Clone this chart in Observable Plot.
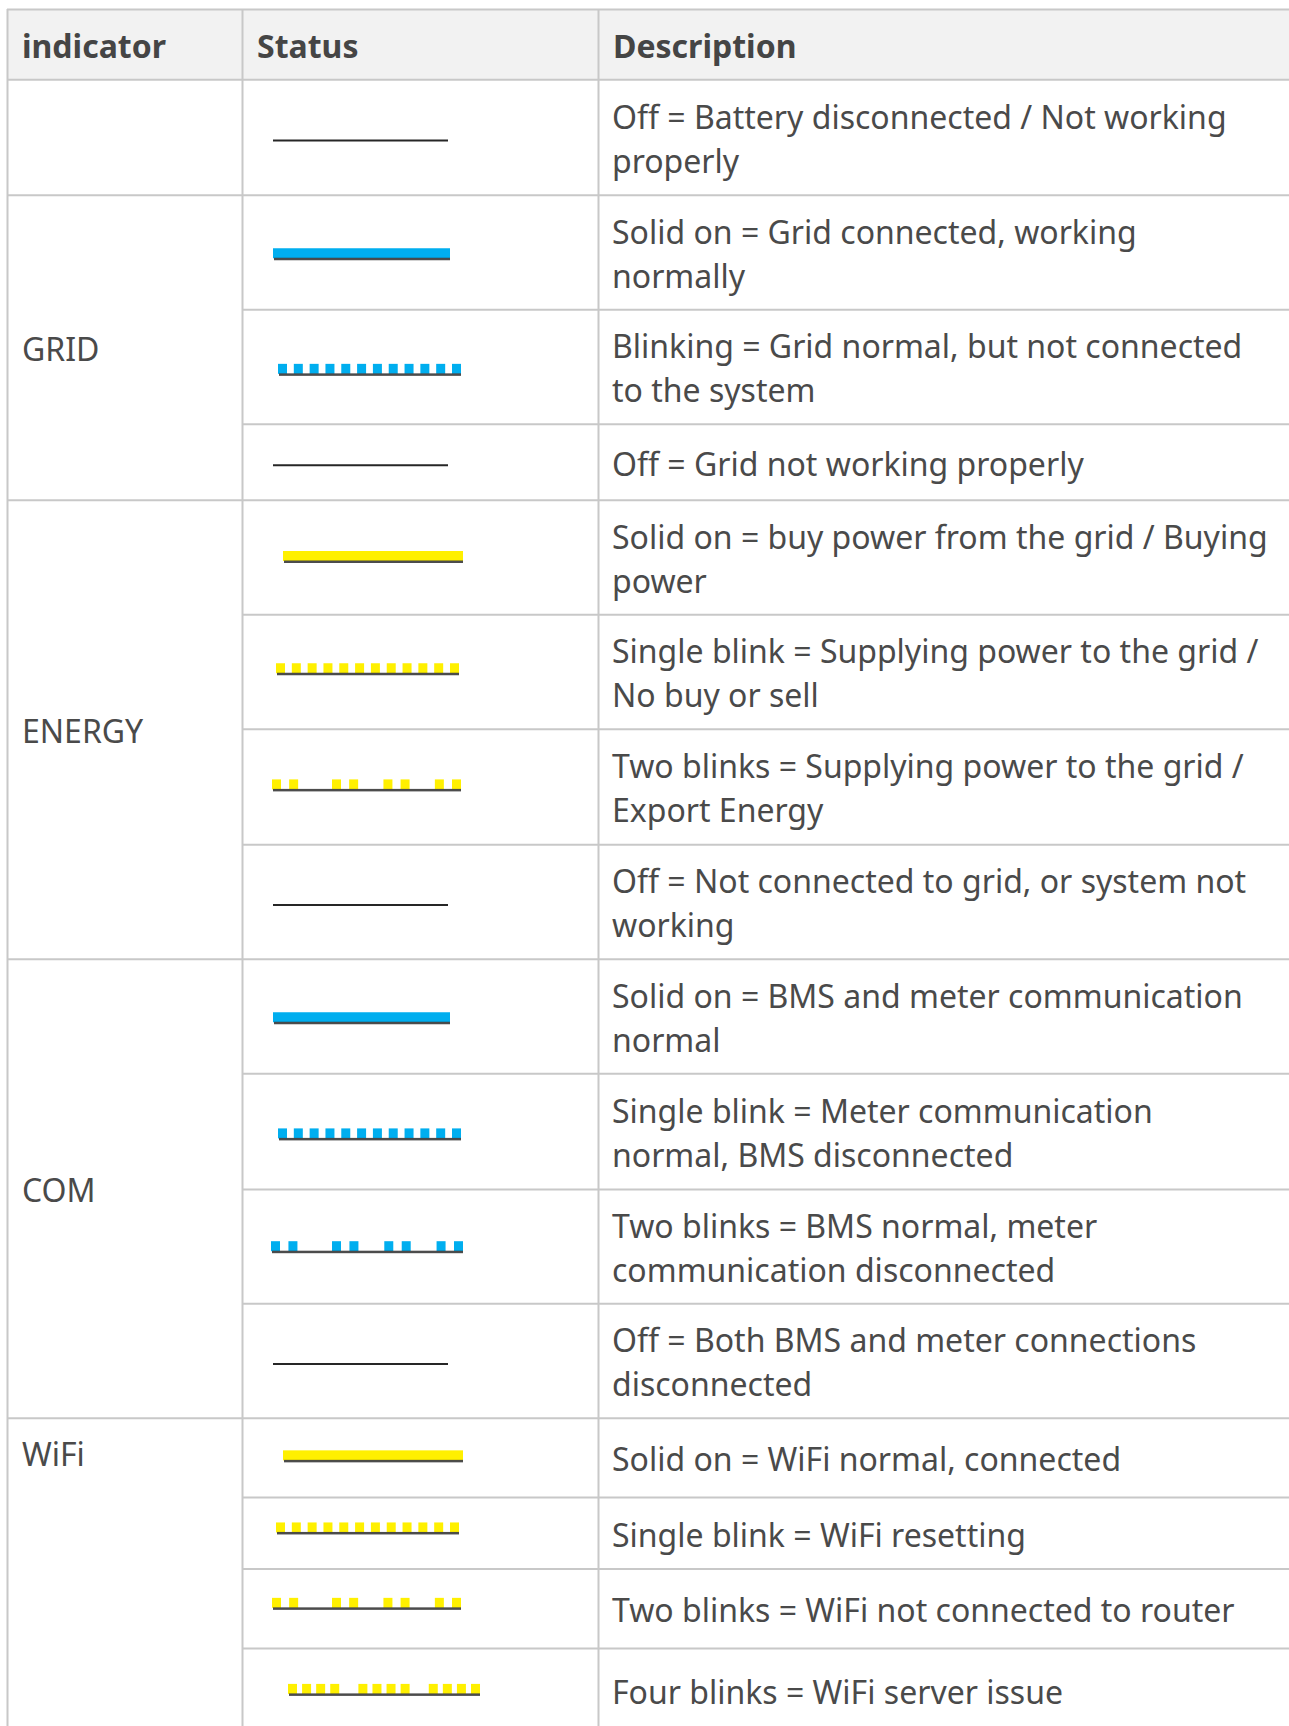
<!DOCTYPE html>
<html>
<head>
<meta charset="utf-8">
<script src="https://cdn.jsdelivr.net/npm/d3@7"></script>
<script src="https://cdn.jsdelivr.net/npm/@observablehq/plot@0.6"></script>
<style>
  html, body { margin: 0; padding: 0; background: #ffffff; overflow: hidden; }
  #chart svg { display: block; }
</style>
</head>
<body>
<div id="chart"></div>
<script>
// ---------------- DATA ----------------
const headers = ["indicator", "Status", "Description"];

const rowIndicator = [
  "", "GRID", "GRID", "GRID",
  "ENERGY", "ENERGY", "ENERGY", "ENERGY",
  "COM", "COM", "COM", "COM",
  "WiFi", "WiFi", "WiFi", "WiFi"
];

const rowStatus = [
  "off", "solid", "single", "off",
  "solid", "single", "double", "off",
  "solid", "single", "double", "off",
  "solid", "single", "double", "quad"
];

const rowLed = [
  "none", "blue LED", "blue LED", "none",
  "yellow LED", "yellow LED", "yellow LED", "none",
  "blue LED", "blue LED", "blue LED", "none",
  "yellow LED", "yellow LED", "yellow LED", "yellow LED"
];

const rowDescription = [
  "Off = Battery disconnected / Not working\nproperly",
  "Solid on = Grid connected, working\nnormally",
  "Blinking = Grid normal, but not connected\nto the system",
  "Off = Grid not working properly",
  "Solid on = buy power from the grid / Buying\npower",
  "Single blink = Supplying power to the grid /\nNo buy or sell",
  "Two blinks = Supplying power to the grid /\nExport Energy",
  "Off = Not connected to grid, or system not\nworking",
  "Solid on = BMS and meter communication\nnormal",
  "Single blink = Meter communication\nnormal, BMS disconnected",
  "Two blinks = BMS normal, meter\ncommunication disconnected",
  "Off = Both BMS and meter connections\ndisconnected",
  "Solid on = WiFi normal, connected",
  "Single blink = WiFi resetting",
  "Two blinks = WiFi not connected to router",
  "Four blinks = WiFi server issue"
];

// LED blink sequences (1 = lit, 0 = dark)
const blinkPatterns = {
  single: "10101010101010101010101",
  double: "1010000101000101000101",
  quad:   "11110111101111"
};

const ledNames = ["blue LED", "yellow LED"];

// ---------------- LAYOUT / STYLE ----------------
const W = 1289, H = 1726;
const colX = [7, 242, 598, W];
const pad = 14.5;
const tableTop = 9, headerBottom = 79.3;
const rowHeights = [115.5, 114.5, 114.5, 76, 114.4, 114.5, 115.6, 114.5, 114.5, 115.6, 114.4, 114.5, 79.3, 71.5, 79.3, 84];
const glyphDy = [0, 2.2, 3.3, 0, 0, -2.2, -1.1, 0, 2.2, 3.3, 1.1, 0, -1.1, -4.4, -4.4, 0];
const textDy = -0.8;
const labelDy = {centered: 3.2, top: -2.4};
const labelAtFirstRow = ["WiFi"];
const ledColors = ["#00aeef", "#fff000"];
const glyphSpan = {
  off: [273, 448],
  "solid_blue LED": [273, 450], "solid_yellow LED": [283, 463],
  "single_blue LED": [278, 461], "single_yellow LED": [276, 459],
  "double_blue LED": [271, 463], "double_yellow LED": [272, 461],
  "quad_yellow LED": [288, 480]
};
const squareW = 9;
const fontSize = 32;
const gridColor = "#c8c8c8";
const textColor = "#4a4a4a";
const font = "'Noto Sans', 'Open Sans', sans-serif";

// ---------------- BUILD ----------------
let acc = headerBottom;
const rows = rowDescription.map((description, i) => {
  const y1 = acc, y2 = acc + rowHeights[i];
  acc = y2;
  return {i, indicator: rowIndicator[i], status: rowStatus[i], led: rowLed[i],
          description, y1, y2, cy: (y1 + y2) / 2, gy: (y1 + y2) / 2 + glyphDy[i]};
});

// groups of indicator
const groups = [];
rows.forEach(r => {
  const g = groups[groups.length - 1];
  if (g && g.indicator === r.indicator) g.rows.push(r);
  else groups.push({indicator: r.indicator, rows: [r]});
});
const labels = groups.filter(g => g.indicator !== "").map(g => ({
  text: g.indicator,
  y: labelAtFirstRow.includes(g.indicator) ? g.rows[0].cy + labelDy.top
     : (g.rows[0].y1 + g.rows[g.rows.length - 1].y2) / 2 + labelDy.centered
}));

// grid lines
const hLines = [
  {y: tableTop, x1: colX[0], x2: W},
  {y: headerBottom, x1: colX[0], x2: W}
];
rows.forEach((r, i) => {
  if (i === 0) return;
  const full = r.indicator !== rows[i - 1].indicator;
  hLines.push({y: r.y1, x1: full ? colX[0] : colX[1], x2: W});
});
const vLines = colX.slice(0, 3).map(x => ({x, y1: tableTop, y2: H}));

const headerCells = headers.map((t, k) => ({text: t, x: colX[k] + pad, y: (tableTop + headerBottom) / 2 + 3}));

// glyph pieces
const offRows = rows.filter(r => r.status === "off");
const solidRows = rows.filter(r => r.status === "solid").map(r => {
  const [a, b] = glyphSpan["solid_" + r.led];
  return {...r, x1: a, x2: b};
});
const squares = [];
const underlines = [];
rows.filter(r => blinkPatterns[r.status]).forEach(r => {
  const pat = blinkPatterns[r.status];
  const [a, b] = glyphSpan[r.status + "_" + r.led];
  const pitch = (b - a - squareW) / (pat.length - 1);
  [...pat].forEach((c, k) => {
    if (c === "1") squares.push({led: r.led, x1: a + k * pitch, x2: a + k * pitch + squareW, gy: r.gy});
  });
  underlines.push({x1: a + 1, x2: b, gy: r.gy});
});
solidRows.forEach(r => underlines.push({x1: r.x1 + 1, x2: r.x2, gy: r.gy}));

const chart = Plot.plot({
  width: W,
  height: H,
  margin: 0,
  x: {domain: [0, W], range: [0, W], axis: null},
  y: {domain: [0, H], range: [0, H], axis: null},
  color: {domain: ledNames, range: ledColors},
  style: {fontFamily: font, background: "#ffffff", overflow: "hidden"},
  marks: [
    // header background
    Plot.rect([headers], {x1: colX[0], x2: W, y1: tableTop, y2: headerBottom, fill: "#f2f2f2"}),
    // grid
    Plot.ruleY(hLines, {y: "y", x1: "x1", x2: "x2", stroke: gridColor, strokeWidth: 2}),
    Plot.ruleX(vLines, {x: "x", y1: "y1", y2: "y2", stroke: gridColor, strokeWidth: 2}),
    // header text
    Plot.text(headerCells, {x: "x", y: "y", text: "text", textAnchor: "start", fontSize, fontWeight: 700, fill: "#454545"}),
    // indicator labels
    Plot.text(labels, {x: colX[0] + pad, y: "y", text: "text", textAnchor: "start", fontSize, fill: textColor}),
    // descriptions
    Plot.text(rows, {x: colX[2] + pad - 1, y: d => d.cy + textDy, text: "description", textAnchor: "start", fontSize, lineHeight: 1.38, fill: textColor}),
    // status glyphs
    Plot.ruleY(offRows, {y: d => d.gy + 3, x1: glyphSpan.off[0], x2: glyphSpan.off[1], stroke: "#262626", strokeWidth: 2}),
    Plot.rect(solidRows, {x1: "x1", x2: "x2", y1: d => d.gy - 6, y2: d => d.gy + 4, fill: {value: "led", scale: "color"}}),
    Plot.rect(squares, {x1: "x1", x2: "x2", y1: d => d.gy - 6, y2: d => d.gy + 4, fill: {value: "led", scale: "color"}}),
    Plot.rect(underlines, {x1: "x1", x2: "x2", y1: d => d.gy + 3.5, y2: d => d.gy + 6, fill: "#383838", fillOpacity: 0.9})
  ]
});
document.getElementById("chart").appendChild(chart);
</script>
</body>
</html>
